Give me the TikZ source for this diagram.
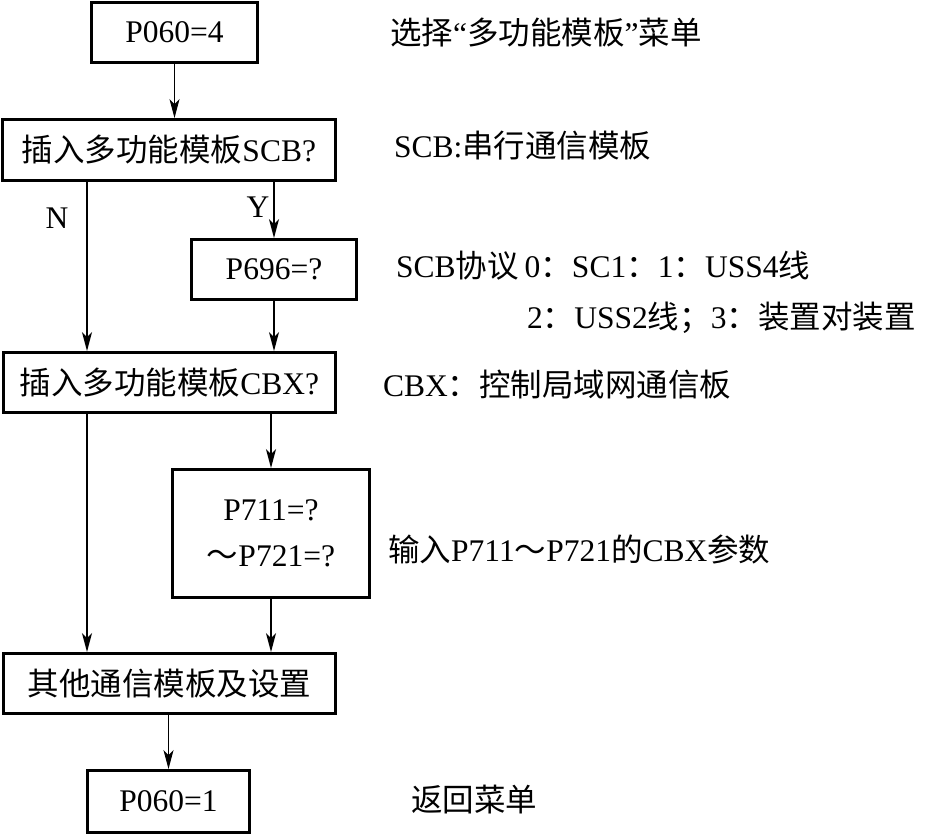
\documentclass[tikz,border=0pt]{standalone}
\usepackage{fontspec}
\setmainfont{Liberation Serif}
\newfontfamily\cjk{Noto Sans CJK SC}
\newcommand{\zh}[1]{{\cjk #1}}
\usetikzlibrary{arrows.meta}
\begin{document}
\begin{tikzpicture}[x=1pt,y=-1pt,
  box/.style={draw,line width=2.8pt,inner sep=0pt,align=center,font=\fontsize{31.5}{46}\selectfont},
  lbl/.style={inner sep=0pt,anchor=west,font=\fontsize{31.5}{38}\selectfont},
  yn/.style={inner sep=0pt,font=\fontsize{31.5}{38}\selectfont},
  arr/.style={line width=1.8pt,-{Stealth[length=19pt,width=10pt,inset=5pt]}}]
\useasboundingbox (0,0) rectangle (934,835);
% boxes
\node[box,minimum width=166pt,minimum height=60pt] (b1) at (174.5,32.5) {P060=4};
\node[box,minimum width=333pt,minimum height=61pt] (b2) at (169,150) {\zh{插入多功能模板}SCB?};
\node[box,minimum width=165pt,minimum height=60pt] (b3) at (274,269.5) {P696=?};
\node[box,minimum width=332pt,minimum height=60pt] (b4) at (169.5,382.5) {\zh{插入多功能模板}CBX?};
\node[box,minimum width=197pt,minimum height=128pt] (b5) at (271,533.5) {P711=?\\\zh{～}P721=?};
\node[box,minimum width=332pt,minimum height=60pt] (b6) at (169.5,683.5) {\zh{其他通信模板及设置}};
\node[box,minimum width=162pt,minimum height=62pt] (b7) at (168.5,801.5) {P060=1};
% helper x coordinates
\coordinate (nx) at (87,0);
% connectors
\draw[arr] (b1.south) -- (b2.north -| b1.south);
\draw[arr] (b2.south -| nx) -- (b4.north -| nx);
\draw[arr] (b2.south -| b3.north) -- (b3.north);
\draw[arr] (b3.south) -- (b4.north -| b3.south);
\draw[arr] (b4.south -| nx) -- (b6.north -| nx);
\draw[arr] (b4.south -| b5.north) -- (b5.north);
\draw[arr] (b5.south) -- (b6.north -| b5.south);
\draw[arr] (b6.south -| b7.north) -- (b7.north);
% branch labels
\node[yn] (n) at (57,218) {N};
\node[yn] (y) at (258,207) {Y};
% side texts
\node[lbl] (t1) at (390,33) {\zh{选择}“\zh{多功能模板}”\zh{菜单}};
\node[lbl] (t2) at (394,146) {SCB:\zh{串行通信模板}};
\node[lbl] (t3) at (396,266) {SCB\zh{协议}\hspace{6pt}0\zh{：}SC1\zh{：}1\zh{：}USS4\zh{线}};
\node[lbl] (t4) at (527,318) {2\zh{：}USS2\zh{线；}3\zh{：装置对装置}};
\node[lbl] (t5) at (383,385) {CBX\zh{：控制局域网通信板}};
\node[lbl] (t6) at (388,549) {\zh{输入}P711\zh{～}P721\zh{的}CBX\zh{参数}};
\node[lbl] (t7) at (411,800) {\zh{返回菜单}};
\end{tikzpicture}
\end{document}
